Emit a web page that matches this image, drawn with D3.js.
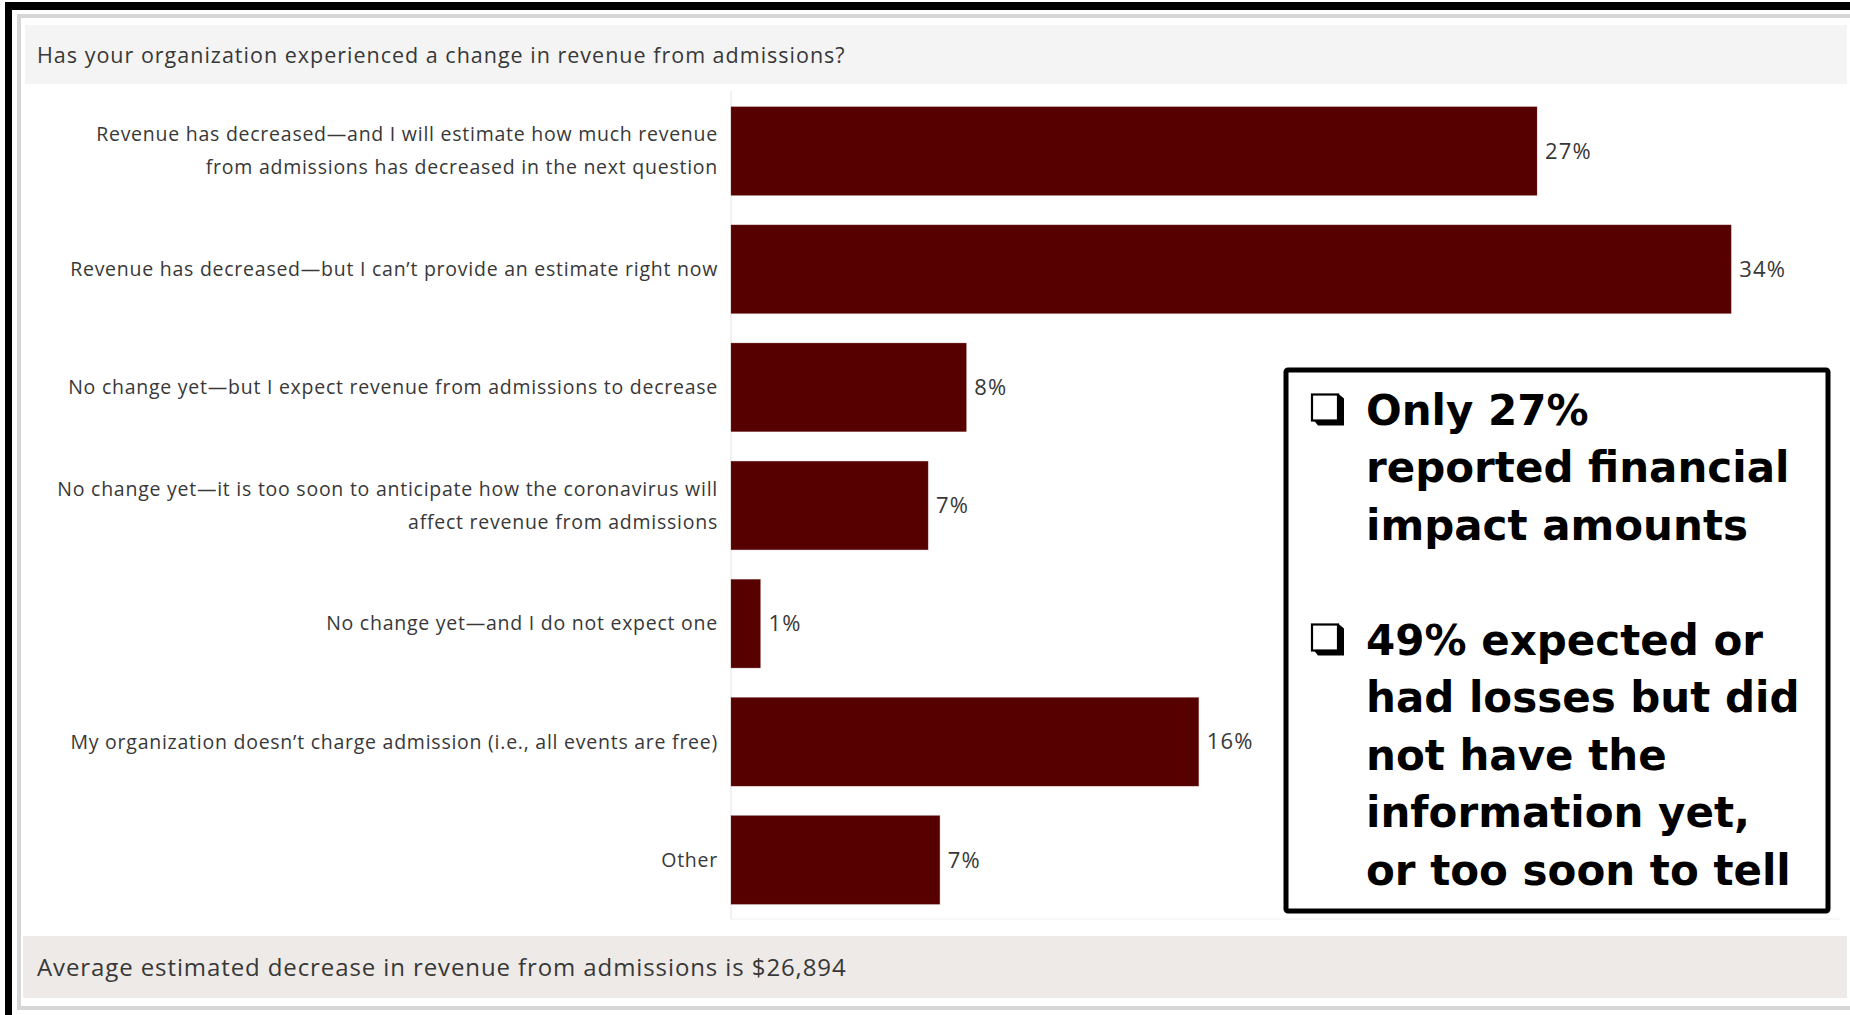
<!DOCTYPE html>
<html>
<head>
<meta charset="utf-8">
<script src="https://cdn.jsdelivr.net/npm/d3@7"></script>
<style>
  html, body { margin: 0; padding: 0; background: #ffffff; }
  svg { display: block; }
</style>
</head>
<body>
<svg id="chart" width="1850" height="1015"></svg>
<script>
// Survey answers, one entry per bar (each entry is the label's lines)
const categories = [
  ["Revenue has decreased\u2014and I will estimate how much revenue", "from admissions has decreased in the next question"],
  ["Revenue has decreased\u2014but I can\u2019t provide an estimate right now"],
  ["No change yet\u2014but I expect revenue from admissions to decrease"],
  ["No change yet\u2014it is too soon to anticipate how the coronavirus will", "affect revenue from admissions"],
  ["No change yet\u2014and I do not expect one"],
  ["My organization doesn\u2019t charge admission (i.e., all events are free)"],
  ["Other"]
];
// Share of respondents, percent
const shares = [27.4, 34.0, 8.0, 6.7, 1.0, 15.9, 7.1];

const titleText = "Has your organization experienced a change in revenue from admissions?";
const footerText = "Average estimated decrease in revenue from admissions is $26,894";
const noteBlocks = [
  ["Only 27%", "reported financial", "impact amounts"],
  ["49% expected or", "had losses but did", "not have the", "information yet,", "or too soon to tell"]
];

const svg = d3.select("#chart");
const W = 1850, H = 1015;
const textFont = "'Open Sans', 'Noto Sans', sans-serif";
const textColor = "#383838";
const barColor = "#560000";

// Frame: black outer edge on the top and left, light grey inner rule
svg.append("rect").attr("x", 5).attr("y", 2).attr("width", W - 5).attr("height", 8).attr("fill", "#000");
svg.append("rect").attr("x", 5).attr("y", 2).attr("width", 7).attr("height", H - 2).attr("fill", "#000");
svg.append("rect").attr("x", 19).attr("y", 16).attr("width", W).attr("height", 992)
  .attr("fill", "none").attr("stroke", "#d6d6d6").attr("stroke-width", 4);

// Title band
svg.append("rect").attr("x", 25).attr("y", 25).attr("width", W - 28).attr("height", 59).attr("fill", "#f4f4f4");
svg.append("text").attr("x", 37).attr("y", 55).attr("dy", "0.35em")
  .attr("font-family", textFont).attr("font-size", 21.5).attr("letter-spacing", 1).attr("fill", textColor)
  .text(titleText);

// Footer band
svg.append("rect").attr("x", 23).attr("y", 936).attr("width", W - 26).attr("height", 62).attr("fill", "#eeeae7");
svg.append("text").attr("x", 37).attr("y", 968).attr("dy", "0.35em")
  .attr("font-family", textFont).attr("font-size", 24).attr("letter-spacing", 0.9).attr("fill", textColor)
  .text(footerText);

// Bar chart
const plotLeft = 731, plotRight = 1840, plotTop = 92, plotBottom = 919;
const y = d3.scaleBand().domain(d3.range(categories.length)).range([plotTop, plotBottom]).paddingInner(0.25).paddingOuter(0.125);
const x = d3.scaleLinear().domain([0, 37.7]).range([plotLeft, plotRight]);

// faint axis rules
svg.append("line").attr("x1", plotLeft).attr("x2", plotLeft).attr("y1", plotTop - 1).attr("y2", plotBottom)
  .attr("stroke", "#ececec").attr("stroke-width", 1.5);
svg.append("line").attr("x1", plotLeft).attr("x2", plotRight).attr("y1", plotBottom).attr("y2", plotBottom)
  .attr("stroke", "#f0f0f0").attr("stroke-width", 1);

const rows = svg.append("g").selectAll("g").data(shares).join("g");

rows.append("rect")
  .attr("x", x(0))
  .attr("y", (d, i) => y(i))
  .attr("width", d => x(d) - x(0))
  .attr("height", y.bandwidth())
  .attr("fill", barColor)
  .attr("stroke", "#8a4a4a").attr("stroke-width", 0.6).attr("stroke-opacity", 0.5);

rows.append("text")
  .attr("x", d => x(d) + 8)
  .attr("y", (d, i) => y(i) + y.bandwidth() / 2)
  .attr("dy", "0.35em")
  .attr("font-family", textFont).attr("font-size", 22).attr("letter-spacing", 1.2).attr("fill", textColor)
  .text(d => d3.format(".0f")(d) + "%");

// Category labels, right aligned against the bars
const lineGap = 33;
rows.each(function (d, i) {
  const lines = categories[i];
  const cy = y(i) + y.bandwidth() / 2;
  const t = d3.select(this).append("text")
    .attr("text-anchor", "end")
    .attr("font-family", textFont).attr("font-size", 19.5).attr("letter-spacing", 0.75).attr("fill", textColor);
  lines.forEach((ln, k) => {
    t.append("tspan")
      .attr("x", plotLeft - 13)
      .attr("y", cy + (k - (lines.length - 1) / 2) * lineGap)
      .attr("dy", "0.35em")
      .text(ln);
  });
});

// Callout box with the key findings
const box = { x: 1286, y: 370, w: 542, h: 541 };
svg.append("rect").attr("x", box.x).attr("y", box.y).attr("width", box.w).attr("height", box.h)
  .attr("rx", 2).attr("fill", "#ffffff").attr("stroke", "#000").attr("stroke-width", 5);

const noteFont = "'DejaVu Sans', Verdana, sans-serif";
const noteLeft = 1366, firstLine = 409.5, noteStep = 57.5;
let lineIndex = 0;
noteBlocks.forEach((block, b) => {
  const cy0 = firstLine + lineIndex * noteStep;
  // shadowed check box in front of each block
  const bx = 1311, by = cy0 - 16;
  const g = svg.append("g");
  g.append("path")
    .attr("d", `M${bx + 3},${by + 27} L${bx + 7},${by + 32} L${bx + 33},${by + 32} L${bx + 33},${by + 5} L${bx + 27},${by} L${bx + 27},${by + 27} Z`)
    .attr("fill", "#000");
  g.append("rect").attr("x", bx + 1).attr("y", by + 1).attr("width", 26).attr("height", 26)
    .attr("fill", "#fff").attr("stroke", "#000").attr("stroke-width", 2.2);

  block.forEach((ln, k) => {
    svg.append("text")
      .attr("x", noteLeft)
      .attr("y", cy0 + k * noteStep)
      .attr("dy", "0.36em")
      .attr("font-family", noteFont).attr("font-weight", "bold").attr("font-size", 42).attr("fill", "#000")
      .text(ln);
  });
  lineIndex += block.length + 1;
});
</script>
</body>
</html>
